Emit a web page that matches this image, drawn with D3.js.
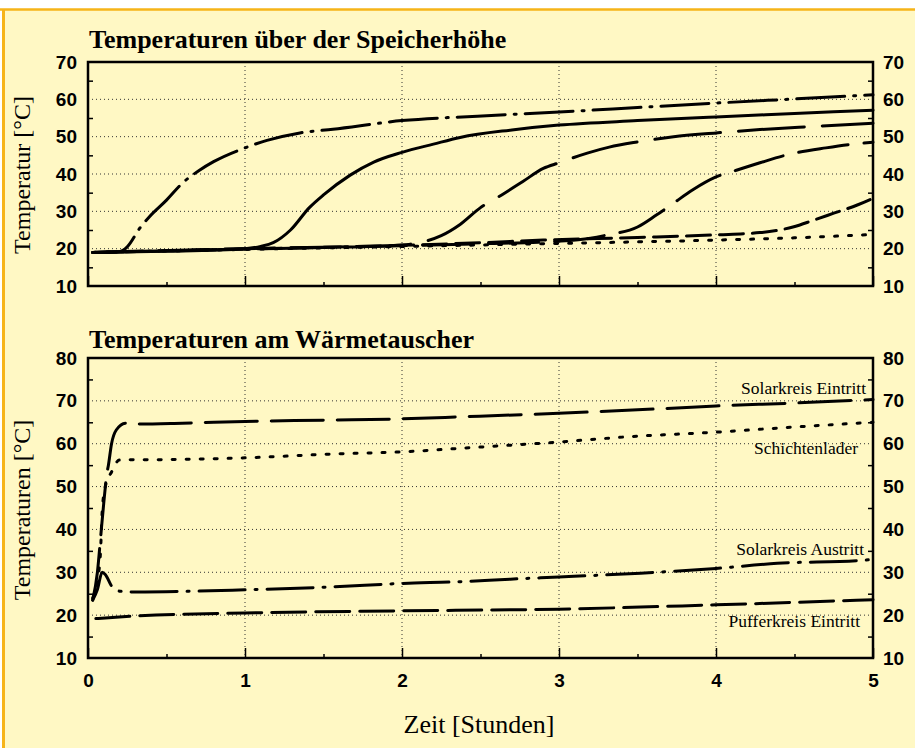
<!DOCTYPE html>
<html>
<head>
<meta charset="utf-8">
<script src="https://cdn.jsdelivr.net/npm/d3@7"></script>
<style>
  body { margin: 0; background: #fff; }
  svg { display: block; }
  .tick text { font-family: "Liberation Sans", Arial, sans-serif; font-weight: bold; font-size: 19px; fill: #000; }
</style>
</head>
<body>
<div id="chart"></div>
<script>
const width = 915;
const height = 748;

// ticks
const hourTicks = [0, 1, 2, 3, 4, 5];
const topTempTicks = [10, 20, 30, 40, 50, 60, 70];
const bottomTempTicks = [10, 20, 30, 40, 50, 60, 70, 80];

// Temperaturen ueber der Speicherhoehe: [Stunden, °C]
const schicht1 = [[0.03,19],[0.2,19.2],[0.25,20.5],[0.33,25.5],[0.39,28.5],[0.5,33],[0.6,37.5],[0.71,41],[0.8,43.3],[1.0,47],[1.14,49],[1.35,51],[1.56,52],[2.0,54.3],[2.48,55.5],[3.0,56.6],[3.5,57.8],[4.0,59],[4.5,60.1],[5.0,61.2]];
const schicht2 = [[0.03,19],[0.5,19.3],[1.0,20],[1.1,20.6],[1.18,21.6],[1.29,25],[1.41,31],[1.5,34.4],[1.67,39.7],[1.82,43.2],[2.0,45.8],[2.2,48],[2.37,49.8],[2.7,51.8],[3.0,53.1],[3.5,54.3],[4.0,55.3],[4.5,56.2],[5.0,57.1]];
const schicht3 = [[0.03,19],[0.5,19.4],[1.0,19.9],[1.5,20.3],[2.0,21],[2.15,22],[2.25,23.5],[2.37,26.5],[2.5,31],[2.64,34.5],[2.77,38],[2.9,41.5],[3.0,43],[3.18,45.6],[3.32,47.2],[3.5,48.6],[3.73,50],[4.0,51],[4.28,51.9],[4.6,52.7],[5.0,53.6]];
const schicht4 = [[0.03,19],[1.0,20],[2.0,20.8],[2.5,21.3],[3.0,22],[3.2,22.8],[3.31,23.7],[3.5,25.8],[3.62,29],[3.73,32.2],[3.85,35.7],[4.0,39.2],[4.13,41],[4.28,43],[4.45,45.1],[4.7,47],[4.87,48],[5.0,48.5]];
const schicht5 = [[0.03,19],[1.0,19.9],[2.0,20.9],[2.5,21.6],[2.9,22.3],[3.5,23],[4.0,23.7],[4.28,24.3],[4.49,25.8],[4.62,27.6],[4.75,29.5],[4.9,31.7],[5.0,33.5]];
const schicht6 = [[0.03,19],[1.0,19.8],[2.0,20.6],[3.0,21.4],[4.0,22.3],[4.5,22.9],[5.0,23.8]];

// Temperaturen am Waermetauscher
const solarEin = [[0.03,23.5],[0.06,30],[0.08,38],[0.1,46],[0.12,53],[0.13,55],[0.15,60],[0.18,63.2],[0.24,64.8],[0.3,64.6],[0.6,64.8],[1.0,65.2],[1.5,65.5],[2.0,65.8],[2.4,66.3],[3.0,67.1],[3.5,67.9],[4.0,68.8],[4.5,69.5],[5.0,70.3]];
const schichtenlader = [[0.03,24],[0.06,28],[0.08,35],[0.09,44],[0.11,50],[0.15,53.4],[0.2,56.2],[0.5,56.3],[1.0,56.7],[1.56,57.6],[2.0,58.1],[2.4,59],[3.0,60.4],[3.43,61.6],[4.0,62.7],[4.5,63.9],[5.0,65]];
const solarAus = [[0.03,23.5],[0.06,26],[0.09,30],[0.11,29.5],[0.15,26.8],[0.2,25.6],[0.3,25.4],[1.0,25.9],[1.56,26.6],[2.0,27.4],[2.37,27.8],[2.69,28.4],[3.0,28.9],[3.52,29.8],[4.0,30.9],[4.39,32.1],[4.9,32.7],[5.0,33]];
const pufferEin = [[0.05,19.2],[0.3,19.8],[1.0,20.5],[2.0,21],[3.0,21.4],[4.0,22.4],[5.0,23.6]];

const labelsBottom = ["Solarkreis Eintritt", "Schichtenlader", "Solarkreis Austritt", "Pufferkreis Eintritt"];

const svg = d3.select("#chart").append("svg")
  .attr("width", width)
  .attr("height", height);

// background + orange frame
svg.append("rect").attr("x", 0).attr("y", 0).attr("width", width).attr("height", height).attr("fill", "#fff");
svg.append("rect").attr("x", 2).attr("y", 9).attr("width", width - 2).attr("height", height - 9).attr("fill", "#fff8c4");
svg.append("line").attr("x1", 0).attr("x2", width).attr("y1", 9.5).attr("y2", 9.5).attr("stroke", "#f6b419").attr("stroke-width", 2.5);
svg.append("line").attr("x1", 3.5).attr("x2", 3.5).attr("y1", 9).attr("y2", height).attr("stroke", "#f6b419").attr("stroke-width", 3);

const x = d3.scaleLinear().domain([0, 5]).range([88, 873]);
const yTop = d3.scaleLinear().domain([10, 70]).range([286, 62]);
const yBot = d3.scaleLinear().domain([10, 80]).range([658, 358]);

function panel(y, ticks, showX) {
  const [y0, y1] = y.range();
  const g = svg.append("g");
  const minor = d3.range(ticks[0] + 5, ticks[ticks.length - 1], 10);

  // dotted grid
  g.append("g").selectAll("line").data(ticks.slice(1, -1)).join("line")
    .attr("x1", x(0)).attr("x2", x(5))
    .attr("y1", d => y(d)).attr("y2", d => y(d))
    .attr("stroke", "#333").attr("stroke-width", 1).attr("stroke-dasharray", "1,3");
  g.append("g").selectAll("line").data(hourTicks.slice(1, -1)).join("line")
    .attr("x1", d => x(d)).attr("x2", d => x(d))
    .attr("y1", y1).attr("y2", y0)
    .attr("stroke", "#333").attr("stroke-width", 1).attr("stroke-dasharray", "1,3");

  // axes with labels
  g.append("g").attr("transform", `translate(${x(0)},0)`)
    .call(d3.axisLeft(y).tickValues(ticks).tickSize(0).tickPadding(11))
    .call(a => a.select(".domain").remove());
  g.append("g").attr("transform", `translate(${x(5)},0)`)
    .call(d3.axisRight(y).tickValues(ticks).tickSize(0).tickPadding(10))
    .call(a => a.select(".domain").remove());

  // inside ticks
  g.append("g").attr("transform", `translate(${x(0)},0)`)
    .call(d3.axisLeft(y).tickValues(minor).tickSize(-5).tickFormat(""))
    .call(a => a.select(".domain").remove());
  g.append("g").attr("transform", `translate(${x(5)},0)`)
    .call(d3.axisRight(y).tickValues(minor).tickSize(-5).tickFormat(""))
    .call(a => a.select(".domain").remove());
  g.append("g").attr("transform", `translate(0,${y0})`)
    .call(d3.axisBottom(x).tickValues(hourTicks).tickSize(-10).tickPadding(15.5).tickFormat(showX ? d3.format("d") : ""))
    .call(a => a.select(".domain").remove());
  g.append("g").attr("transform", `translate(0,${y0})`)
    .call(d3.axisBottom(x).tickValues(d3.range(0.5, 5, 1)).tickSize(-4).tickFormat(""))
    .call(a => a.select(".domain").remove());
  g.selectAll(".tick line").attr("stroke", "#000").attr("stroke-width", 1.5);

  // frame
  g.append("rect")
    .attr("x", x(0)).attr("y", y1)
    .attr("width", x(5) - x(0)).attr("height", y0 - y1)
    .attr("fill", "none").attr("stroke", "#000").attr("stroke-width", 2.5);
  return g;
}

panel(yTop, topTempTicks, false);
panel(yBot, bottomTempTicks, true);

function curve(y, data, dash, w) {
  const line = d3.line().x(d => x(d[0])).y(d => y(d[1])).curve(d3.curveMonotoneX);
  svg.append("path").datum(data)
    .attr("d", line)
    .attr("fill", "none")
    .attr("stroke", "#000")
    .attr("stroke-width", w || 3)
    .attr("stroke-linecap", "round")
    .attr("stroke-dasharray", dash);
}

curve(yTop, schicht6, "3,11");
curve(yTop, schicht5, "24,9");
curve(yTop, schicht4, "50,16");
curve(yTop, schicht3, "66,18");
curve(yTop, schicht2, null);
curve(yTop, schicht1, "48,9,2,9");

curve(yBot, pufferEin, "34,10");
curve(yBot, solarAus, "46,10,2,10");
curve(yBot, schichtenlader, "3,11");
curve(yBot, solarEin, "52,14");

// titles
const serif = "'Liberation Serif', 'Times New Roman', serif";
svg.append("text").attr("x", 89).attr("y", 48)
  .attr("font-family", serif).attr("font-weight", "bold").attr("font-size", 26)
  .text("Temperaturen über der Speicherhöhe");
svg.append("text").attr("x", 89).attr("y", 348)
  .attr("font-family", serif).attr("font-weight", "bold").attr("font-size", 26)
  .text("Temperaturen am Wärmetauscher");

svg.append("text").attr("transform", "translate(30,175) rotate(-90)")
  .attr("text-anchor", "middle").attr("font-family", serif).attr("font-size", 24)
  .text("Temperatur [°C]");
svg.append("text").attr("transform", "translate(30,510) rotate(-90)")
  .attr("text-anchor", "middle").attr("font-family", serif).attr("font-size", 24)
  .text("Temperaturen [°C]");
svg.append("text").attr("x", 479).attr("y", 733)
  .attr("text-anchor", "middle").attr("font-family", serif).attr("font-size", 26)
  .text("Zeit [Stunden]");

// series labels
const labelPos = [[866, 394], [858, 454], [864, 555], [860, 627]];
svg.append("g").selectAll("text").data(labelsBottom).join("text")
  .attr("x", (d, i) => labelPos[i][0]).attr("y", (d, i) => labelPos[i][1])
  .attr("text-anchor", "end").attr("font-family", serif).attr("font-size", 17.5)
  .text(d => d);
</script>
</body>
</html>
